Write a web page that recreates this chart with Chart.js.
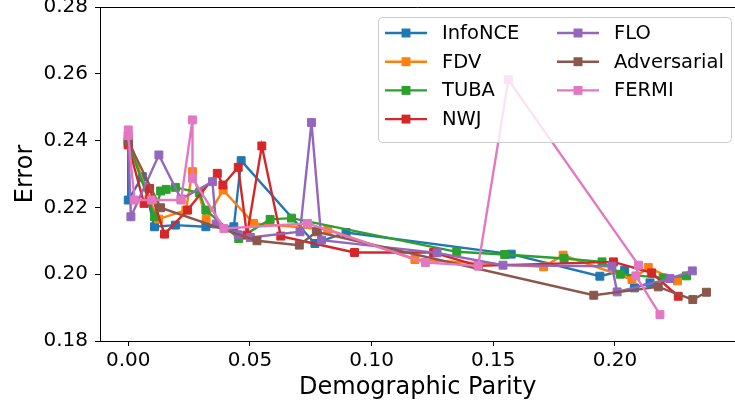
<!DOCTYPE html>
<html>
<head>
<meta charset="utf-8">
<script src="https://cdn.jsdelivr.net/npm/chart.js@4.4.1/dist/chart.umd.min.js"></script>
<style>
  html, body { margin: 0; padding: 0; background: #fff; overflow: hidden; }
  #wrap { width: 742px; height: 406px; }
</style>
</head>
<body>
<div id="wrap"><canvas id="chart" width="742" height="406"></canvas></div>
<script>
// 시리즈 이름 / 색상
const seriesNames = ['InfoNCE', 'FDV', 'TUBA', 'NWJ', 'FLO', 'Adversarial', 'FERMI'];
const seriesColors = ['#1f77b4', '#ff7f0e', '#2ca02c', '#d62728', '#9467bd', '#8c564b', '#e377c2'];

// 데이터 (Demographic Parity, Error)
const infoNceX = [0.0, 0.0, 0.0058, 0.0108, 0.0194, 0.0319, 0.0434, 0.0464, 0.0767, 0.0895, 0.1574, 0.1938, 0.204, 0.208, 0.2144];
const infoNceY = [0.2392, 0.2222, 0.2292, 0.2142, 0.2147, 0.2142, 0.2142, 0.234, 0.2092, 0.2125, 0.206, 0.1994, 0.2012, 0.1959, 0.1974];

const fdvX = [0.0, 0.0085, 0.0125, 0.0237, 0.0264, 0.032, 0.039, 0.0515, 0.082, 0.1178, 0.1707, 0.1787, 0.207, 0.2137, 0.2257];
const fdvY = [0.2412, 0.2225, 0.2165, 0.2192, 0.2307, 0.2165, 0.2252, 0.2152, 0.2134, 0.2044, 0.2022, 0.2057, 0.1984, 0.202, 0.198];

const tubaX = [0.0, 0.0108, 0.0133, 0.0156, 0.0194, 0.0292, 0.0319, 0.0454, 0.0583, 0.0671, 0.135, 0.1547, 0.1791, 0.1947, 0.2022, 0.2198, 0.2294];
const tubaY = [0.2395, 0.2172, 0.2249, 0.2254, 0.226, 0.2244, 0.2192, 0.2107, 0.2164, 0.2168, 0.2067, 0.2059, 0.2047, 0.2037, 0.2, 0.1989, 0.1995];

const nwjX = [0.0, 0.0065, 0.0088, 0.0149, 0.0244, 0.0366, 0.0389, 0.0452, 0.0488, 0.0549, 0.0627, 0.093, 0.1255, 0.1438, 0.1994, 0.2151, 0.226];
const nwjY = [0.2387, 0.2212, 0.2257, 0.212, 0.2192, 0.2302, 0.2267, 0.232, 0.2117, 0.2384, 0.2114, 0.2065, 0.2065, 0.2025, 0.2037, 0.2004, 0.1934];

const floX = [0.0, 0.0011, 0.0126, 0.0217, 0.0346, 0.0361, 0.0452, 0.0502, 0.0706, 0.0753, 0.0794, 0.1269, 0.154, 0.1988, 0.2009, 0.2226, 0.2318];
const floY = [0.2405, 0.2172, 0.2357, 0.2225, 0.2277, 0.215, 0.2118, 0.211, 0.2127, 0.2454, 0.2102, 0.2064, 0.2027, 0.2024, 0.1947, 0.1987, 0.201];

const advX = [0.0, 0.0133, 0.0529, 0.0703, 0.0773, 0.1913, 0.2178, 0.232, 0.2376];
const advY = [0.2398, 0.2199, 0.21, 0.2087, 0.2127, 0.1937, 0.1962, 0.1924, 0.1946];

const fermiX = [0.0, 0.0, 0.0026, 0.0095, 0.0217, 0.0264, 0.0264, 0.0393, 0.0737, 0.1221, 0.1438, 0.1562, 0.2097, 0.2086, 0.2185];
const fermiY = [0.2432, 0.2415, 0.2222, 0.2222, 0.2222, 0.2462, 0.2287, 0.2137, 0.2152, 0.2035, 0.2025, 0.2582, 0.2027, 0.1995, 0.1879];

// 눈금
const xTicks = [0.0, 0.05, 0.10, 0.15, 0.20];
const yTicks = [0.18, 0.20, 0.22, 0.24, 0.26, 0.28];

function toPoints(xs, ys) {
    return xs.map((x, i) => ({ x: x, y: ys[i] }));
}

const seriesData = [
    toPoints(infoNceX, infoNceY),
    toPoints(fdvX, fdvY),
    toPoints(tubaX, tubaY),
    toPoints(nwjX, nwjY),
    toPoints(floX, floY),
    toPoints(advX, advY),
    toPoints(fermiX, fermiY)
];

const lineW = 2.4;
const markR = 5.6;

const datasets = seriesNames.map((name, i) => ({
    label: name,
    data: seriesData[i],
    showLine: true,
    borderColor: seriesColors[i],
    backgroundColor: seriesColors[i],
    borderWidth: lineW,
    pointStyle: 'rect',
    pointRadius: markR,
    pointHoverRadius: markR,
    pointBorderWidth: 1,
    pointBorderColor: seriesColors[i],
    pointBackgroundColor: seriesColors[i],
    // 뒤 시리즈가 위에 그려지도록
    order: seriesNames.length - i
}));

// 테두리 + 범례 직접 그리기
const frameAndLegend = {
    id: 'frameAndLegend',
    afterDatasetsDraw(chart) {
        const ctx = chart.ctx;
        const a = chart.chartArea;
        ctx.save();
        ctx.strokeStyle = '#000';
        ctx.lineWidth = 1;
        ctx.beginPath();
        ctx.moveTo(a.left, a.top + 0.5);
        ctx.lineTo(a.right, a.top + 0.5);
        ctx.stroke();

        // 범례 박스
        const bx = 378, by = 17, bw = 353, bh = 125;
        ctx.beginPath();
        ctx.roundRect(bx + 0.5, by + 0.5, bw, bh, 4);
        ctx.fillStyle = 'rgba(255,255,255,0.8)';
        ctx.fill();
        ctx.strokeStyle = '#cccccc';
        ctx.stroke();

        ctx.font = '19.5px "DejaVu Sans"';
        ctx.textBaseline = 'middle';
        ctx.textAlign = 'left';
        chart.data.datasets.forEach((ds, i) => {
            const col = i < 4 ? 0 : 1;
            const row = i < 4 ? i : i - 4;
            const lx = col === 0 ? 385 : 557;
            const y = 33 + row * 28.7;
            ctx.strokeStyle = ds.borderColor;
            ctx.lineWidth = lineW;
            ctx.beginPath();
            ctx.moveTo(lx, y);
            ctx.lineTo(lx + 42, y);
            ctx.stroke();
            const s = markR * Math.SQRT2 + 1;
            ctx.fillStyle = ds.borderColor;
            ctx.fillRect(lx + 21 - s / 2, y - s / 2, s, s);
            ctx.fillStyle = '#000';
            ctx.fillText(ds.label, lx + 57, y + 1);
        });
        ctx.restore();
    }
};

Chart.defaults.font.family = "'DejaVu Sans', sans-serif";
Chart.defaults.color = '#000';

new Chart(document.getElementById('chart'), {
    type: 'scatter',
    data: { datasets: datasets },
    options: {
        responsive: false,
        devicePixelRatio: 1,
        animation: false,
        events: [],
        layout: { padding: { top: 7, right: 0, left: 0, bottom: 0 } },
        plugins: {
            legend: { display: false },
            tooltip: { enabled: false }
        },
        scales: {
            x: {
                type: 'linear',
                min: -0.0116,
                max: 0.2495,
                afterBuildTicks: s => { s.ticks = xTicks.map(v => ({ value: v })); },
                afterFit: s => { s.height = 65; s.paddingLeft = 0; s.paddingRight = 0; },
                ticks: {
                    font: { size: 20 },
                    color: '#000',
                    padding: 3,
                    maxRotation: 0,
                    callback: v => v.toFixed(2)
                },
                grid: { display: true, drawOnChartArea: false, drawTicks: true, tickLength: 5, tickColor: '#000', tickWidth: 1 },
                border: { display: true, color: '#000', width: 1 },
                title: { display: true, text: 'Demographic Parity', font: { size: 24 }, color: '#000', padding: { top: 0, bottom: 4 } }
            },
            y: {
                type: 'linear',
                min: 0.18,
                max: 0.28,
                afterBuildTicks: s => { s.ticks = yTicks.map(v => ({ value: v })); },
                afterFit: s => { s.width = 100; s.paddingTop = 0; s.paddingBottom = 0; },
                ticks: {
                    font: { size: 20 },
                    color: '#000',
                    padding: 7,
                    callback: v => v.toFixed(2)
                },
                grid: { display: true, drawOnChartArea: false, drawTicks: true, tickLength: 5, tickColor: '#000', tickWidth: 1 },
                border: { display: true, color: '#000', width: 1 },
                title: { display: true, text: 'Error', font: { size: 24 }, color: '#000', padding: { top: 11, bottom: 0 } }
            }
        }
    },
    plugins: [frameAndLegend]
});
</script>
</body>
</html>
